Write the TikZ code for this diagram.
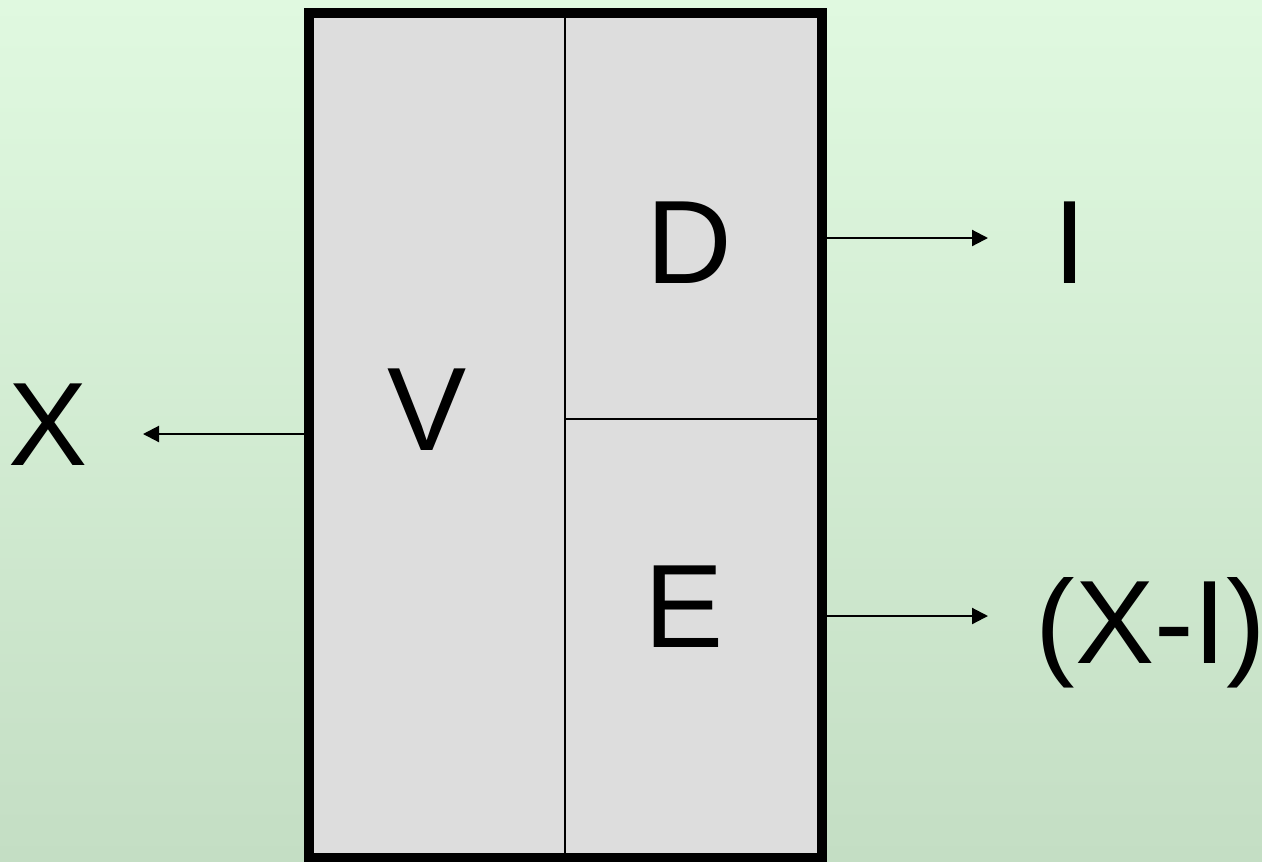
\documentclass[tikz,border=0pt]{standalone}
\usepackage{fontspec}
\setmainfont{Liberation Sans}
\usetikzlibrary{arrows.meta}
\definecolor{bgtop}{RGB}{224,249,224}
\definecolor{bgbot}{RGB}{196,222,196}
\definecolor{boxgray}{RGB}{221,221,221}
\begin{document}
\begin{tikzpicture}[x=0.75pt,y=-0.75pt,
  lbl/.style={font=\fontsize{89}{100}\selectfont, inner sep=0pt, anchor=center},
  arr/.style={line width=1.6pt, -{Triangle[length=12pt,width=12pt]}},
  divider/.style={line width=1.4pt},
  bigbox/.style={fill=boxgray, inner sep=0pt, outer sep=0pt,
    minimum width=384.75pt, minimum height=634.1pt}]
\useasboundingbox (0,0) rectangle (1262,861);
\shade[top color=bgtop, bottom color=bgbot] (0,0) rectangle (1262,861);
\node[bigbox] (box) at (565,435.25) {};
\coordinate (vdiv) at (565,0);
\coordinate (mid) at (565,419);
\draw[divider] (vdiv |- box.north) -- (vdiv |- box.south);
\draw[divider] (mid) -- (mid -| box.east);
\begin{scope}
\clip (0,0) rectangle (1262,861);
\draw[line width=7.5pt] (box.north west) rectangle (box.south east);
\end{scope}
\node[lbl] (v) at (427,410) {V};
\node[lbl] (d) at (689,243) {D};
\node[lbl] (e) at (684,607) {E};
\node[lbl] (x) at (48,425) {X};
\node[lbl] (i) at (1070,243) {I};
\node[lbl] (xi) at (1151,632.5) {(X-I)};
\coordinate (xtip) at (143,434);
\coordinate (itip) at (988,238);
\coordinate (xitip) at (988,616);
\draw[arr] (xtip -| box.west) -- (xtip);
\draw[arr] (itip -| box.east) -- (itip);
\draw[arr] (xitip -| box.east) -- (xitip);
\end{tikzpicture}
\end{document}
